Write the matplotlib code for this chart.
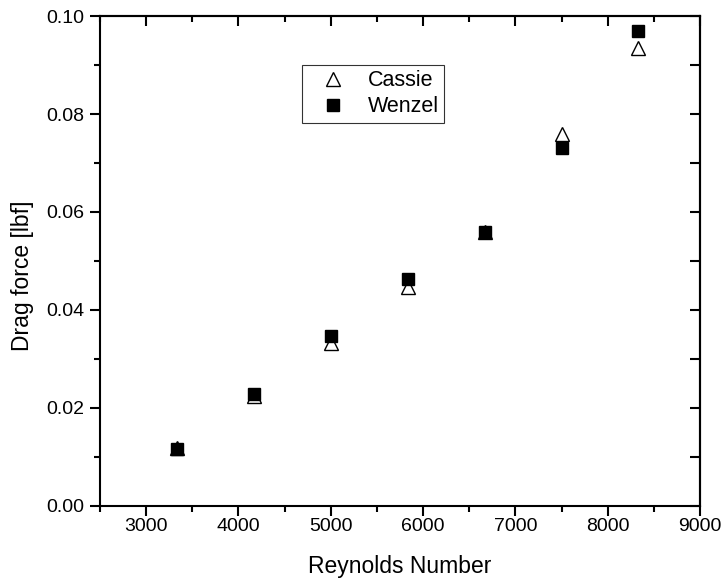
import matplotlib
matplotlib.use("Agg")
import matplotlib.pyplot as plt
from matplotlib.ticker import MultipleLocator

plt.rcParams['font.family'] = ['Liberation Sans', 'DejaVu Sans']

# drag measurements for the two wetting states
reynolds = [3333, 4167, 5000, 5833, 6667, 7500, 8333]
cassie = [0.0119, 0.0224, 0.0333, 0.0447, 0.0559, 0.0759, 0.0935]
wenzel = [0.0116, 0.0228, 0.0346, 0.0463, 0.0560, 0.0731, 0.0969]

fig = plt.figure(figsize=(7.24, 5.82), dpi=100)
ax = fig.add_axes([0.1381, 0.1306, 0.8288, 0.8419])

ax.plot(reynolds, cassie, linestyle='none', marker='^', markersize=10,
        markerfacecolor='white', markeredgecolor='black', markeredgewidth=1.0,
        label='Cassie')
ax.plot(reynolds, wenzel, linestyle='none', marker='s', markersize=8.3,
        markerfacecolor='black', markeredgecolor='black', label='Wenzel')

ax.set_xlim(2500, 9000)
ax.set_ylim(0, 0.10)
ax.xaxis.set_major_locator(MultipleLocator(1000))
ax.xaxis.set_minor_locator(MultipleLocator(500))
ax.yaxis.set_major_locator(MultipleLocator(0.02))
ax.yaxis.set_minor_locator(MultipleLocator(0.01))
ax.yaxis.set_major_formatter(lambda v, p: f"{v:.2f}")

ax.tick_params(which='major', direction='out', length=7, width=1.5,
               labelsize=14)
ax.tick_params(axis='x', which='major', pad=2)
ax.tick_params(axis='y', which='major', pad=4)
ax.tick_params(which='minor', direction='out', length=4, width=1.5)
for s in ax.spines.values():
    s.set_linewidth(1.5)

# inward ticks on the opposite sides, no labels
top = ax.secondary_xaxis('top')
top.xaxis.set_major_locator(MultipleLocator(1000))
top.xaxis.set_minor_locator(MultipleLocator(500))
top.tick_params(which='major', direction='in', length=7, width=1.5, labeltop=False)
top.tick_params(which='minor', direction='in', length=4.5, width=1.5)
top.spines['top'].set_linewidth(1.5)

right = ax.secondary_yaxis('right')
right.yaxis.set_major_locator(MultipleLocator(0.02))
right.yaxis.set_minor_locator(MultipleLocator(0.01))
right.tick_params(which='major', direction='in', length=7, width=1.5, labelright=False)
right.tick_params(which='minor', direction='in', length=7, width=1.5)
right.spines['right'].set_linewidth(1.5)

ax.set_xlabel('Reynolds Number', fontsize=16.5)
ax.set_ylabel('Drag force [lbf]', fontsize=16.5)
ax.xaxis.set_label_coords(0.5, -0.1)
ax.yaxis.set_label_coords(-0.11, 0.469)

leg = ax.legend(loc='upper left', bbox_to_anchor=(0.337, 0.9), fontsize=15.5,
                frameon=True, fancybox=False, edgecolor='black',
                handlelength=2.4, handletextpad=0.4, borderpad=0.25,
                labelspacing=0.22, borderaxespad=0)
leg.get_frame().set_linewidth(0.8)

fig.savefig('out.png', dpi=100)
